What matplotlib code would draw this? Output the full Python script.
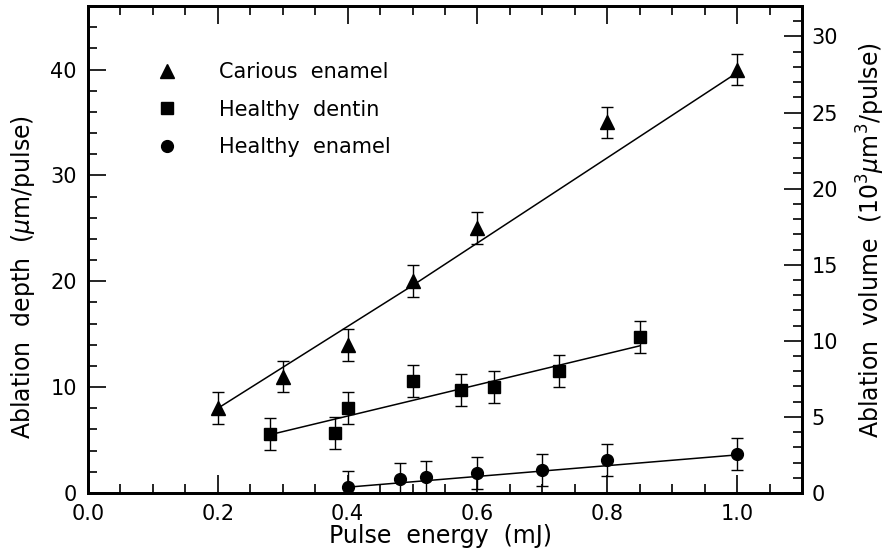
import matplotlib
matplotlib.use('Agg')
import matplotlib.pyplot as plt
from matplotlib.ticker import MultipleLocator, FormatStrFormatter
from matplotlib.lines import Line2D

# data (depth in um/pulse, energy in mJ)
carious_x = [0.2, 0.3, 0.4, 0.5, 0.6, 0.8, 1.0]
carious_y = [8.0, 11.0, 14.0, 20.0, 25.0, 35.0, 40.0]
carious_err = [1.5, 1.5, 1.5, 1.5, 1.5, 1.5, 1.5]
carious_fit_x = [0.2, 0.5, 1.0]
carious_fit_y = [8.0, 19.6, 39.7]

dentin_x = [0.28, 0.38, 0.40, 0.50, 0.575, 0.625, 0.725, 0.85]
dentin_y = [5.6, 5.7, 8.0, 10.6, 9.7, 10.0, 11.5, 14.7]
dentin_err = [1.5, 1.5, 1.5, 1.5, 1.5, 1.5, 1.5, 1.5]
dentin_fit_x = [0.28, 0.85]
dentin_fit_y = [5.5, 13.9]

enamel_x = [0.40, 0.48, 0.52, 0.60, 0.70, 0.80, 1.00]
enamel_y = [0.6, 1.3, 1.5, 1.9, 2.2, 3.1, 3.7]
enamel_err = [1.5, 1.5, 1.5, 1.5, 1.5, 1.5, 1.5]
enamel_fit_x = [0.40, 1.00]
enamel_fit_y = [0.55, 3.6]

labels = ['Carious  enamel', 'Healthy  dentin', 'Healthy  enamel']

fig = plt.figure(figsize=(8.88, 5.57), dpi=100)
ax = fig.add_axes([88 / 888, 1 - 493 / 557, 714 / 888, 487 / 557])

# error bars first, then fit lines, then markers on top
ebkw = dict(fmt='none', ecolor='k', elinewidth=1.0, capsize=4, capthick=1.0, zorder=2)
ax.errorbar(carious_x, carious_y, yerr=carious_err, **ebkw)
ax.errorbar(dentin_x, dentin_y, yerr=dentin_err, **ebkw)
ax.errorbar(enamel_x, enamel_y, yerr=enamel_err, **ebkw)

ax.plot(carious_fit_x, carious_fit_y, 'k-', lw=1.1, zorder=3)
ax.plot(dentin_fit_x, dentin_fit_y, 'k-', lw=1.1, zorder=3)
ax.plot(enamel_fit_x, enamel_fit_y, 'k-', lw=1.1, zorder=3)

ax.plot(carious_x, carious_y, 'k^', ms=10.5, ls='none', zorder=4)
ax.plot(dentin_x, dentin_y, 'ks', ms=8.5, ls='none', zorder=4)
ax.plot(enamel_x, enamel_y, 'ko', ms=8.5, ls='none', zorder=4)

ax.set_xlim(0, 1.1)
ax.set_ylim(0, 46)
ax.xaxis.set_major_locator(MultipleLocator(0.2))
ax.xaxis.set_minor_locator(MultipleLocator(0.05))
ax.xaxis.set_major_formatter(FormatStrFormatter('%.1f'))
ax.yaxis.set_major_locator(MultipleLocator(10))
ax.yaxis.set_minor_locator(MultipleLocator(2))
ax.tick_params(which='both', direction='in', top=True, right=False, width=1.2, labelsize=15)
ax.tick_params(which='major', length=13)
ax.tick_params(which='minor', length=6.5)
ax.tick_params(axis='x', pad=8)
ax.tick_params(axis='y', pad=8)
for sp in ax.spines.values():
    sp.set_linewidth(2)

ax.set_xlabel('Pulse  energy  (mJ)', fontsize=17)
ax.xaxis.set_label_coords(0.494, -0.064)
ax.set_ylabel('Ablation  depth  ($\\mu$m/pulse)', fontsize=17)
ax.yaxis.set_label_coords(-0.072, 0.444)

ax2 = ax.twinx()
ax2.set_ylim(0, 32)
ax2.yaxis.set_major_locator(MultipleLocator(5))
ax2.yaxis.set_minor_locator(MultipleLocator(1))
ax2.tick_params(which='both', direction='in', width=1.2, labelsize=15, pad=7)
ax2.tick_params(which='major', length=13)
ax2.tick_params(which='minor', length=6.5)
for sp in ax2.spines.values():
    sp.set_linewidth(2)
ax2.set_ylabel('Ablation  volume  (10$^3$$\\mu$m$^3$/pulse)', fontsize=17)
ax2.yaxis.set_label_coords(1.074, 0.52)

handles = [Line2D([], [], color='k', marker='^', ls='none', ms=10.5),
           Line2D([], [], color='k', marker='s', ls='none', ms=8.5),
           Line2D([], [], color='k', marker='o', ls='none', ms=8.5)]
ax.legend(handles, labels, loc='upper left', bbox_to_anchor=(0.096, 0.885),
          frameon=False, fontsize=15, handlelength=1.0, handletextpad=2.0,
          labelspacing=0.85, borderpad=0, borderaxespad=0)

fig.savefig('out.png', dpi=100)
